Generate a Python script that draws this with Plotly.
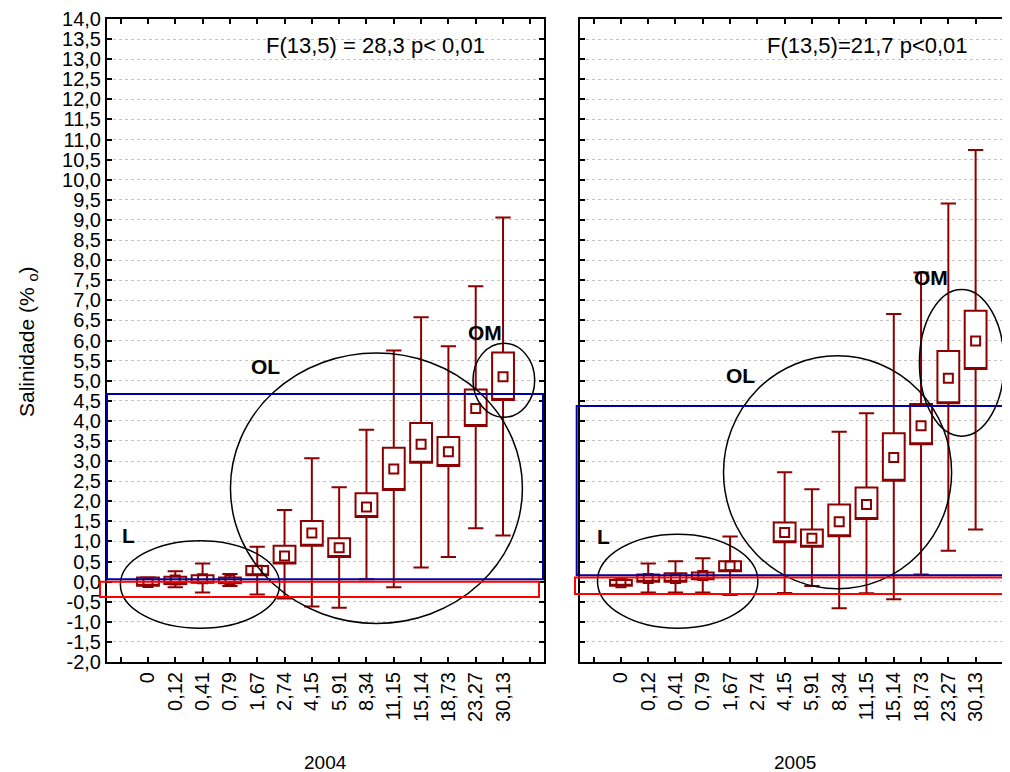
import plotly.graph_objects as go

# ---------------- data ----------------
categories = ["0", "0,12", "0,41", "0,79", "1,67", "2,74", "4,15", "5,91",
              "8,34", "11,15", "15,14", "18,73", "23,27", "30,13"]

# 2004
mean_2004 = [-0.02, 0.04, 0.07, 0.04, 0.28, 0.64, 1.21, 0.84, 1.86, 2.80, 3.42, 3.23, 4.31, 5.10]
box_lo_2004 = [-0.10, -0.06, -0.03, -0.04, 0.16, 0.45, 0.89, 0.61, 1.61, 2.28, 2.96, 2.88, 3.87, 4.52]
box_hi_2004 = [0.10, 0.12, 0.16, 0.10, 0.39, 0.89, 1.51, 1.08, 2.20, 3.33, 3.95, 3.60, 4.78, 5.70]
whisk_lo_2004 = [-0.10, -0.14, -0.27, -0.11, -0.32, -0.42, -0.62, -0.65, 0.06, -0.14, 0.35, 0.61, 1.33, 1.15]
whisk_hi_2004 = [0.11, 0.26, 0.45, 0.19, 0.87, 1.78, 3.07, 2.35, 3.78, 5.75, 6.58, 5.86, 7.35, 9.06]

# 2005 (no sample at 2,74)
mean_2005 = [-0.03, 0.08, 0.08, 0.15, 0.39, None, 1.22, 1.08, 1.49, 1.92, 3.09, 3.88, 5.06, 5.99]
box_lo_2005 = [-0.10, 0.00, 0.00, 0.06, 0.26, None, 0.98, 0.87, 1.13, 1.56, 2.51, 3.42, 4.44, 5.29]
box_hi_2005 = [0.04, 0.18, 0.21, 0.23, 0.51, None, 1.47, 1.30, 1.92, 2.34, 3.69, 4.42, 5.74, 6.74]
whisk_lo_2005 = [-0.10, -0.27, -0.27, -0.27, -0.33, None, -0.28, -0.11, -0.66, -0.29, -0.44, 0.18, 0.77, 1.30]
whisk_hi_2005 = [0.05, 0.45, 0.51, 0.58, 1.12, None, 2.72, 2.30, 3.73, 4.19, 6.66, 7.69, 9.41, 10.74]

y_ticks = [v / 2 for v in range(-4, 29)]
y_ticktext = [f"{v:.1f}".replace(".", ",") for v in y_ticks]

stats_text = ["F(13,5) = 28,3 p< 0,01", "F(13,5)=21,7 p<0,01"]
year_labels = ["2004", "2005"]
y_title = "Salinidade (% <sub>o</sub>)"

# group ellipses (data coords: x0, x1, y0, y1) and label centres
ellipses_2004 = {"L": (-1.01, 4.82, -1.16, 1.02), "OL": (3.02, 13.71, -1.04, 5.69), "OM": (11.90, 14.16, 4.09, 5.93)}
ellipses_2005 = {"L": (-0.86, 5.02, -1.16, 1.18), "OL": (3.76, 12.12, -0.18, 5.62), "OM": (10.94, 14.04, 3.62, 7.27)}
labels_2004 = {"L": (-0.70, 1.16), "OL": (4.31, 5.35), "OM": (12.35, 6.20)}
labels_2005 = {"L": (-0.64, 1.12), "OL": (4.40, 5.14), "OM": (11.36, 7.58)}
# horizontal bands (y0, y1)
blue_band = [(0.06, 4.67), (0.16, 4.37)]
red_band = [(-0.38, 0.00), (-0.31, 0.10)]

# ---------------- layout geometry ----------------
OFF = 8                      # page body margin
W, H = 1010 - OFF, 772 - OFF


def px_x(x):
    return (x - OFF) / W


def px_y(y):
    return 1 - (y - OFF) / H


DARK_RED = "#8b0000"
FONT = "Liberation Sans, Arial, sans-serif"
xdom1 = [px_x(107), px_x(544)]
xdom2 = [px_x(580), 1.0]
ydom = [px_y(662), px_y(19)]

fig = go.Figure()


def add_panel(xs_ax, ys_ax, mean, blo, bhi, wlo, whi):
    idx = [i for i, m in enumerate(mean) if m is not None]
    fig.add_trace(go.Box(
        x=idx,
        q1=[blo[i] for i in idx], median=[blo[i] for i in idx], q3=[bhi[i] for i in idx],
        lowerfence=[wlo[i] for i in idx], upperfence=[whi[i] for i in idx],
        width=0.8, whiskerwidth=0.7, fillcolor="white",
        line=dict(color=DARK_RED, width=2), boxpoints=False,
        xaxis=xs_ax, yaxis=ys_ax, showlegend=False, hoverinfo="skip",
    ))
    fig.add_trace(go.Scatter(
        x=idx, y=[mean[i] for i in idx], mode="markers",
        marker=dict(symbol="square-open", size=9, color=DARK_RED, line=dict(width=2, color=DARK_RED)),
        xaxis=xs_ax, yaxis=ys_ax, showlegend=False,
    ))


add_panel("x", "y", mean_2004, box_lo_2004, box_hi_2004, whisk_lo_2004, whisk_hi_2004)
add_panel("x2", "y2", mean_2005, box_lo_2005, box_hi_2005, whisk_lo_2005, whisk_hi_2005)

x_tickvals = list(range(len(categories)))

common_x = dict(tickvals=x_tickvals, ticktext=categories, tickangle=-90,
                ticks="inside", ticklen=5, tickwidth=1.5, tickcolor="black",
                minor=dict(ticks="inside", ticklen=5, tickwidth=1.5, tickcolor="black",
                           tick0=0, dtick=1, showgrid=False),
                showline=True, linewidth=2, linecolor="black", showgrid=False,
                zeroline=False, tickfont=dict(family=FONT, size=20, color="black"),
                automargin=False)
common_y = dict(range=[-2, 14], tickvals=y_ticks, ticktext=y_ticktext,
                ticks="inside", ticklen=5, tickwidth=1.5, tickcolor="black",
                showline=True, linewidth=2, linecolor="black",
                showgrid=True, gridcolor="#c4c4c4", gridwidth=1, griddash="dot",
                zeroline=False, tickfont=dict(family=FONT, size=20, color="black"),
                automargin=False)

fig.update_layout(
    width=W, height=H, margin=dict(l=0, r=0, t=0, b=0),
    paper_bgcolor="white", plot_bgcolor="white", showlegend=False,
    xaxis=dict(domain=xdom1, range=[-1.5, 14.5], anchor="y", mirror="ticks", **common_x),
    yaxis=dict(domain=ydom, anchor="x", mirror="ticks", **common_y),
    xaxis2=dict(domain=xdom2, range=[-1.5, 14.26], anchor="y2", mirror="ticks", **common_x),
    yaxis2=dict(domain=ydom, anchor="x2", mirror=False, showticklabels=False, **common_y),
)

shapes = []
for (xr, yr, ell) in (("x", "y", ellipses_2004), ("x2", "y2", ellipses_2005)):
    for (x0, x1, y0, y1) in ell.values():
        shapes.append(dict(type="circle", xref=xr, yref=yr, x0=x0, x1=x1, y0=y0, y1=y1,
                           line=dict(color="black", width=1.5), layer="above"))

band_x = [((px_x(100), px_x(539)), (px_x(107), px_x(543))),
          ((px_x(575), 1.01), (px_x(576.7), 1.01))]
for k, yr in enumerate(("y", "y2")):
    (rx0, rx1), (bx0, bx1) = band_x[k]
    shapes.append(dict(type="rect", xref="paper", yref=yr, x0=bx0, x1=bx1,
                       y0=blue_band[k][0], y1=blue_band[k][1],
                       line=dict(color="#0000a0", width=2), layer="above"))
    shapes.append(dict(type="rect", xref="paper", yref=yr, x0=rx0, x1=rx1,
                       y0=red_band[k][0], y1=red_band[k][1],
                       line=dict(color="#ff0000", width=2), layer="above"))
fig.update_layout(shapes=shapes)

ann = []
for (xr, yr, labs) in (("x", "y", labels_2004), ("x2", "y2", labels_2005)):
    for name, (lx, ly) in labs.items():
        ann.append(dict(xref=xr, yref=yr, x=lx, y=ly, text=f"<b>{name}</b>", showarrow=False,
                        xanchor="center", yanchor="middle",
                        font=dict(family=FONT, size=21, color="black")))


def paper_text(x, y, text, size, angle=0):
    return dict(xref="paper", yref="paper", x=px_x(x), y=px_y(y), text=text,
                showarrow=False, xanchor="center", yanchor="middle", textangle=angle,
                font=dict(family=FONT, size=size, color="black"))


ann.append(paper_text(375, 46, stats_text[0], 22))
ann.append(paper_text(867, 46, stats_text[1], 22))
ann.append(paper_text(325.5, 762, year_labels[0], 19))
ann.append(paper_text(795, 762, year_labels[1], 19))
ann.append(paper_text(28, 342, y_title, 21, -90))
fig.update_layout(annotations=ann)

fig.write_html("out.html")
